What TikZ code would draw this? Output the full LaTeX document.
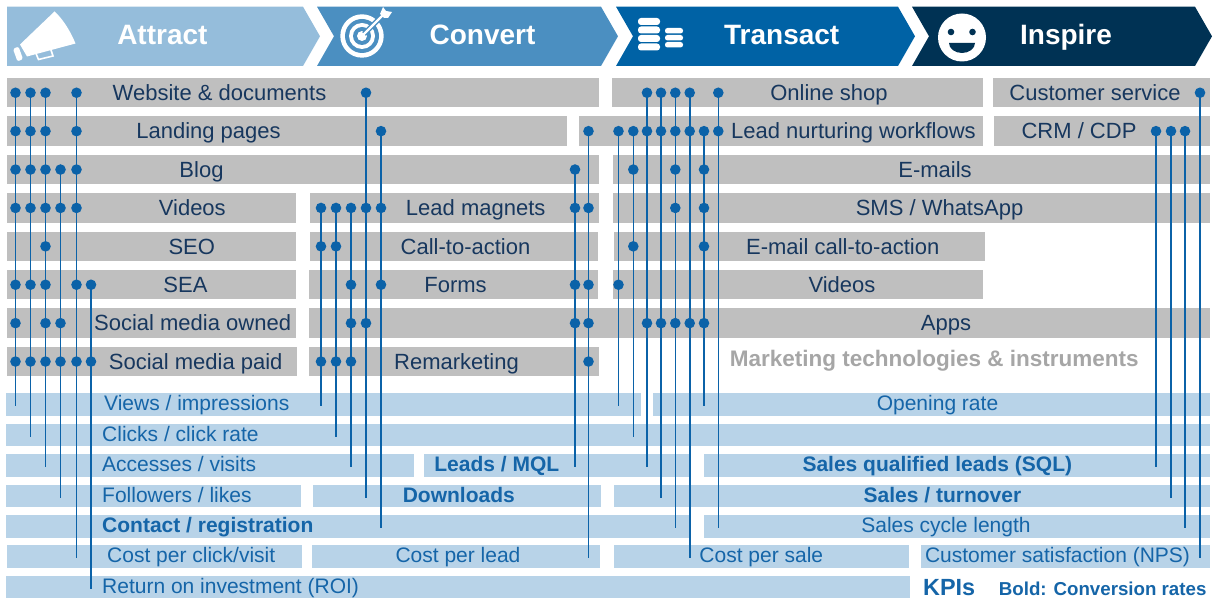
\documentclass[tikz,border=0pt]{standalone}
\usepackage{fontspec}
\setmainfont{Liberation Sans}
\definecolor{cA}{HTML}{95BDDB}
\definecolor{cC}{HTML}{4B8FC1}
\definecolor{cT}{HTML}{0062A5}
\definecolor{cI}{HTML}{003254}
\definecolor{gbar}{HTML}{BFBFBF}
\definecolor{kbar}{HTML}{B8D3E8}
\definecolor{gtxt}{HTML}{17375E}
\definecolor{ktxt}{HTML}{1565A8}
\definecolor{dotc}{HTML}{0B62A8}
\definecolor{mtxt}{HTML}{A6A6A6}
\newcommand\mkbar[6]{%
  \fill[gbar] (#2,{78+38.4*(#4-1)}) rectangle (#3,{107.5+38.4*(#4-1)});
  \node[gtext] (#1) at (#6,{100.5+38.4*(#4-1)}) {#5};}
\newcommand\mkkpi[7]{%
  \fill[kbar] (#2,{393.4+30.4*(#4-1)}) rectangle (#3,{416+30.4*(#4-1)});
  \node[ktext,#7] (#1) at (#6,{410.9+30.4*(#4-1)}) {#5};}
\begin{document}
\begin{tikzpicture}[x=1pt,y=-1pt,
  htext/.style={anchor=base,inner sep=0,text=white,font=\bfseries\fontsize{28}{30}\selectfont},
  gtext/.style={anchor=base,inner sep=0,text=gtxt,font=\fontsize{22}{24}\selectfont},
  ktext/.style={anchor=base,inner sep=0,text=ktxt,font=\fontsize{21}{24}\selectfont},
  kb/.style={font=\bfseries\fontsize{21}{24}\selectfont},
  lw/.style={anchor=base west},
  dot/.style={circle,fill=dotc,inner sep=0,minimum size=10.6},
  conn/.style={draw=dotc,line width=1.6}]
\useasboundingbox (0,0) rectangle (1213,601);
% header chevrons
\fill[cA] (7,6.7) -- (303,6.7) -- (320,36.3) -- (303,66) -- (7,66) -- cycle;
\fill[cC] (317,6.7) -- (601,6.7) -- (618,36.3) -- (601,66) -- (317,66) -- (334,36.3) -- cycle;
\fill[cT] (616,6.7) -- (898,6.7) -- (915,36.3) -- (898,66) -- (616,66) -- (633,36.3) -- cycle;
\fill[cI] (912,6.7) -- (1195,6.7) -- (1212,36.3) -- (1195,66) -- (912,66) -- (929,36.3) -- cycle;
\node[htext] (hA) at (162.4,45) {Attract};
\node[htext] (hC) at (482.5,45) {Convert};
\node[htext] (hT) at (781.7,45) {Transact};
\node[htext] (hI) at (1066,45) {Inspire};
% megaphone
\fill[white] (20,44.5) -- (54.5,11.5) .. controls (62,18) and (70,30) .. (75.5,43.5) -- (27,56.5) -- cycle;
\fill[white,rounded corners=1.5] (13,49) -- (18.5,46.5) -- (23,59) -- (17.5,61.5) -- cycle;
\draw[white,line width=1.6] (36,53.5) -- (38.5,59.5) -- (53,56) -- (51,50);
% target
\fill[white] (362,36) circle (21.7);
\fill[cC] (362,36) circle (17);
\fill[white] (362,36) circle (13);
\fill[cC] (362,36) circle (9);
\fill[white] (362,36) circle (5);
\draw[cC,line width=5] (364,34) -- (382,16);
\draw[white,line width=2.4] (363,35) -- (384,14);
\fill[white] (380,14) -- (383,7) -- (386,11) -- (392,12) -- (388,18) -- (384,18) -- cycle;
% coins
\foreach \yy in {18,26.5,35,43.5}{\fill[white,rounded corners=3] (638,\yy) rectangle (660,\yy+7);}
\foreach \yy in {28,35,42}{\fill[white,rounded corners=2.5] (665,\yy) rectangle (683,\yy+5.5);}
% smiley
\fill[white] (962,37.5) circle (24);
\fill[cI] (951,32) circle (3.3);
\fill[cI] (972.5,32) circle (3.3);
\fill[cI] (949,43) arc[start angle=180,end angle=0,x radius=13,y radius=10] -- cycle;
% gray bars
\mkbar{g11}{7}{599}{1}{Website \& documents}{219.5}
\mkbar{g12}{612}{983}{1}{Online shop}{829}
\mkbar{g13}{993}{1210}{1}{Customer service}{1095}
\mkbar{g21}{7}{567}{2}{Landing pages}{208.5}
\mkbar{g22}{578.5}{983}{2}{Lead nurturing workflows}{853.5}
\mkbar{g23}{994}{1210}{2}{CRM / CDP}{1079}
\mkbar{g31}{7}{599}{3}{Blog}{201.5}
\mkbar{g32}{613}{1210}{3}{E-mails}{935}
\mkbar{g41}{7}{296}{4}{Videos}{192.3}
\mkbar{g42}{309.5}{599}{4}{Lead magnets}{475.7}
\mkbar{g43}{613}{1210}{4}{SMS / WhatsApp}{939.5}
\mkbar{g51}{7}{296}{5}{SEO}{191.8}
\mkbar{g52}{309.5}{598}{5}{Call-to-action}{465.5}
\mkbar{g53}{614}{984.5}{5}{E-mail call-to-action}{842.7}
\mkbar{g61}{7}{296}{6}{SEA}{185.5}
\mkbar{g62}{309}{598}{6}{Forms}{455.5}
\mkbar{g63}{613}{983}{6}{Videos}{842}
\mkbar{g71}{7}{296}{7}{Social media owned}{192.6}
\mkbar{g72}{309}{1210}{7}{Apps}{946}
\mkbar{g81}{7}{297}{8}{Social media paid}{195.7}
\mkbar{g82}{309}{599}{8}{Remarketing}{456.5}
\node[anchor=base,inner sep=0,text=mtxt,font=\bfseries\fontsize{22.5}{24}\selectfont] (mti) at (934.3,367) {Marketing technologies \& instruments};
% KPI bars
\mkkpi{k11}{6}{641}{1}{Views / impressions}{104}{lw}
\mkkpi{k12}{653}{1210}{1}{Opening rate}{937.5}{}
\mkkpi{k21}{6}{1210}{2}{Clicks / click rate}{102}{lw}
\mkkpi{k31}{6}{414.4}{3}{Accesses / visits}{102}{lw}
\mkkpi{k32}{424}{689}{3}{Leads / MQL}{496.8}{kb}
\mkkpi{k33}{704}{1210}{3}{Sales qualified leads (SQL)}{937.3}{kb}
\mkkpi{k41}{6}{301}{4}{Followers / likes}{102}{lw}
\mkkpi{k42}{313}{601}{4}{Downloads}{458.8}{kb}
\mkkpi{k43}{614}{1210}{4}{Sales / turnover}{942.5}{kb}
\mkkpi{k51}{6}{689}{5}{Contact / registration}{102}{lw,kb}
\mkkpi{k52}{704}{1210}{5}{Sales cycle length}{946}{}
\mkkpi{k61}{7}{301.7}{6}{Cost per click/visit}{107}{lw}
\mkkpi{k62}{312}{600}{6}{Cost per lead}{458}{}
\mkkpi{k63}{614}{909}{6}{Cost per sale}{761.3}{}
\mkkpi{k64}{921}{1210}{6}{Customer satisfaction (NPS)}{1057.5}{}
\mkkpi{k71}{6}{910}{7}{Return on investment (ROI)}{102}{lw}
\node[anchor=base west,inner sep=0,text=ktxt,font=\bfseries\fontsize{23.4}{26}\selectfont] (kpis) at (923,595) {KPIs};
\node[anchor=base east,inner sep=0,text=ktxt,font=\bfseries\fontsize{18.7}{21}\selectfont] (legend) at (1206.6,595) {Bold: Conversion rates};
% dot columns and connectors
\foreach \c/\x/\t/\rs/\k in {
  A1/15.5/1/{1,2,3,4,6,7,8}/1, A2/30.5/1/{1,2,3,4,6,8}/2, A3/45.5/1/{1,2,3,4,5,6,7,8}/3,
  A4/60.5/3/{3,4,7,8}/4, A5/76.5/1/{1,2,3,4,6,8}/6, A6/91/6/{6,8}/7,
  C1/321/4/{4,5,8}/1, C2/336/4/{4,5,8}/2, C3/351/4/{4,6,7,8}/3,
  C4/366/1/{1,4,7}/4, C5/381/2/{2,4,6}/5,
  M1/575/3/{3,4,6,7}/3, M2/588.5/2/{2,4,6,7,8}/6,
  T1/618.5/2/{2,6}/1, T2/633.3/2/{2,3,5}/2, T3/647/1/{1,2,7}/3, T4/661/1/{1,2,7}/4,
  T5/675.3/1/{1,2,3,4,7}/5, T6/689.7/1/{1,2,7}/6, T7/704/2/{2,3,4,5,7}/1, T8/718.3/1/{1,2}/5,
  I1/1156/2/{2}/3, I2/1171/2/{2}/4, I3/1185/2/{2}/5, I4/1200/1/{1}/6}{
  \foreach \i in \rs {\node[dot] (d\c-\i) at (\x,{92.75+38.4*(\i-1)}) {};}
  \coordinate (e\c) at (\x,{406.4+30.4*(\k-1)});
  \draw[conn] (d\c-\t.center) -- (e\c);
}
\end{tikzpicture}
\end{document}
